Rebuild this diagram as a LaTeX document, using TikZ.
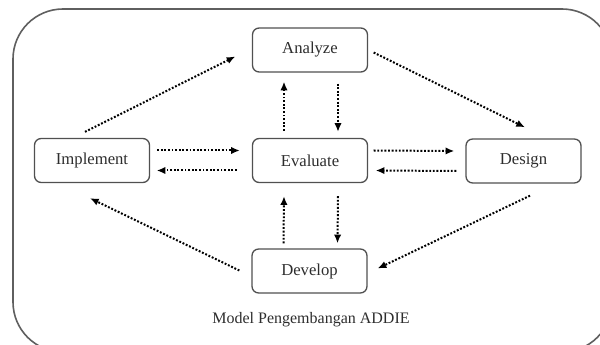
\documentclass[tikz,border=0pt]{standalone}
\usepackage{fontspec}
\setmainfont{Liberation Serif}
\usetikzlibrary{arrows.meta,calc}

\definecolor{framegray}{RGB}{95,95,95}
\definecolor{boxgray}{RGB}{80,80,80}
\definecolor{textgray}{RGB}{45,45,45}

\tikzset{
  stage/.style={draw=boxgray, line width=1pt, rounded corners=5pt,
    minimum width=86.25pt, minimum height=33pt, inner sep=0pt,
    text=textgray, font=\fontsize{12.5}{15}\selectfont},
  flow/.style={line width=1.5pt, dash pattern=on 1.4pt off 1.3pt,
    -{Latex[length=6.5pt,width=5.5pt]}}
}

\begin{document}
\begin{tikzpicture}[x=0.75pt,y=0.75pt,yscale=-1,xscale=1]
    \clip (0,0) rectangle (600,345);
    %Shape: Rounded Rectangle [frame]
    \draw [framegray, line width=1.2pt, rounded corners=37.5pt] (13,9) rectangle (612,352);

    % Text Node
    \node [stage] (analyze) at (310,50) {Analyze};
    % Text Node
    \node [stage] (implement) at (92,160.5) {Implement};
    % Text Node
    \node [stage] (evaluate) at (310,160.5) {Evaluate};
    % Text Node
    \node [stage] (design) at (523.5,161) {Design};
    % Text Node
    \node [stage] (develop) at (309.5,271) {Develop};

    %Straight Lines [outer cycle]
    \draw [flow] ($(implement.north)+(-7,-6)$) -- ($(analyze.west)+(-16.5,6.5)$);
    \draw [flow] ($(analyze.east)+(5.5,2.5)$) -- ($(design.north)+(1.5,-11)$);
    \draw [flow] ($(design.south)+(6.5,12)$) -- ($(develop.east)+(10,-2.5)$);
    \draw [flow] ($(develop.west)+(-12,-0.5)$) -- ($(implement.south)+(-2,15)$);

    %Straight Lines [evaluate - analyze]
    \draw [flow] ($(evaluate.north)+(-26,-7)$) -- ($(analyze.south)+(-26,9)$);
    \draw [flow] ($(analyze.south)+(28,11)$) -- ($(evaluate.north)+(28,-6)$);
    %Straight Lines [evaluate - develop]
    \draw [flow] ($(develop.north)+(-26,-5)$) -- ($(evaluate.south)+(-26,13)$);
    \draw [flow] ($(evaluate.south)+(28,13)$) -- ($(develop.north)+(28,-5)$);
    %Straight Lines [implement - evaluate]
    \draw [flow] ($(implement.east)+(7,-10)$) -- ($(evaluate.west)+(-12,-10)$);
    \draw [flow] ($(evaluate.west)+(-15,10)$) -- ($(implement.east)+(6.5,10)$);
    %Straight Lines [evaluate - design]
    \draw [flow] ($(evaluate.east)+(5.5,-10)$) -- ($(design.west)+(-11,-10)$);
    \draw [flow] ($(design.west)+(-9,10)$) -- ($(evaluate.east)+(7.5,10)$);

    % Text Node
    \node [text=textgray, font=\fontsize{12}{15}\selectfont] (caption) at (311,320) {Model Pengembangan ADDIE};
\end{tikzpicture}
\end{document}
